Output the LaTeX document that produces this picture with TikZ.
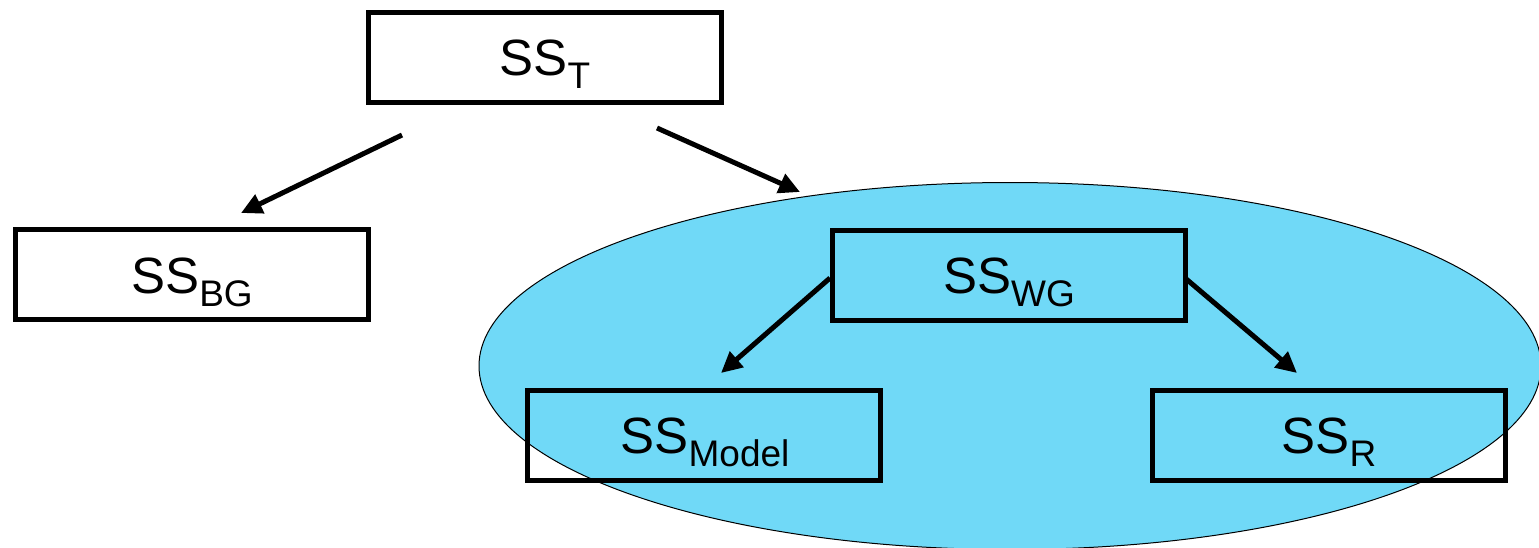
\documentclass[tikz,border=0pt]{standalone}
\usepackage{fontspec}
\setmainfont{Liberation Sans}
\usetikzlibrary{arrows.meta,shapes.geometric}
\definecolor{ellblue}{HTML}{70D9F7}
\newcommand{\sslabel}[1]{SS\raisebox{-13pt}{\fontsize{37}{40}\selectfont #1}}
\begin{document}
\begin{tikzpicture}[x=1pt,y=-1pt,
  boxnode/.style={draw=black,line width=5pt,inner sep=0pt,minimum width=353pt,minimum height=90pt},
  txtnode/.style={anchor=base,inner sep=0pt,font=\fontsize{51}{60}\selectfont},
  arr/.style={line width=5pt,-{Triangle[length=21pt,width=20pt]}}]
\useasboundingbox (0,0) rectangle (1539,547);
\begin{scope}
\clip (0,0) rectangle (1539,547);
\node[draw=black,line width=1pt,fill=ellblue,ellipse,minimum width=1062pt,minimum height=367pt,inner sep=0pt] (ell) at (1010,366) {};
\end{scope}
% boxes
\node[boxnode] (bT) at (544.5,57.5) {};
\node[boxnode] (bBG) at (192,274.5) {};
\node[boxnode] (bWG) at (1008.5,275) {};
\node[boxnode] (bM) at (704,435) {};
\node[boxnode] (bR) at (1328.5,435) {};
% labels
\node[txtnode] (tT) at (545,75.5) {\sslabel{T}};
\node[txtnode] (tBG) at (192,293) {\sslabel{BG}};
\node[txtnode] (tWG) at (1009,293.5) {\sslabel{WG}};
\node[txtnode] (tM) at (705,453.5) {\sslabel{Model}};
\node[txtnode] (tR) at (1329,453.5) {\sslabel{R}};
% arrow end points
\coordinate (a1s) at (402,135);
\coordinate (a1e) at (241,213);
\coordinate (a2s) at (657,128);
\coordinate (a2e) at (800,192);
\coordinate (a3s) at (830,278);
\coordinate (a3e) at (721,373);
\coordinate (a4s) at (1185,278);
\coordinate (a4e) at (1297,373);
\draw[arr] (a1s) -- (a1e);
\draw[arr] (a2s) -- (a2e);
\draw[arr] (a3s) -- (a3e);
\draw[arr] (a4s) -- (a4e);
\end{tikzpicture}
\end{document}
